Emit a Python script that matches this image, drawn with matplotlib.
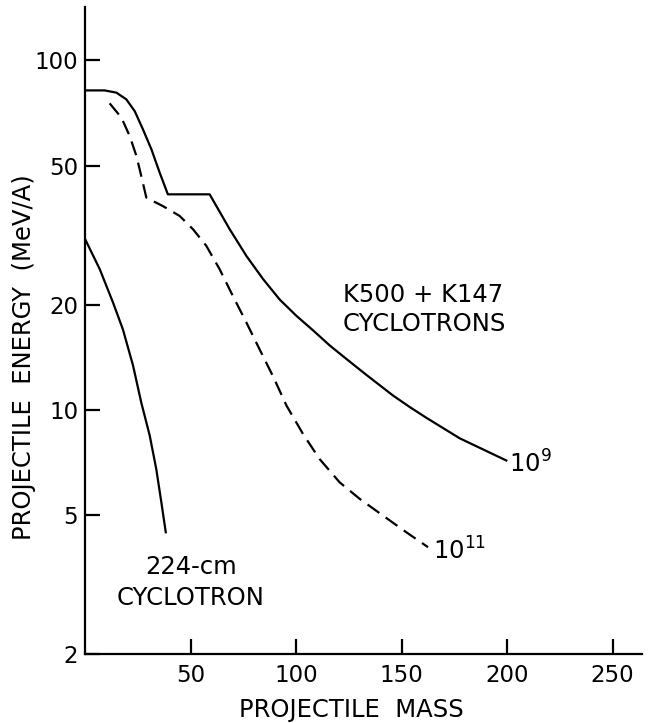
import numpy as np
import matplotlib
matplotlib.use('Agg')
import matplotlib.pyplot as plt

# Read-off values (projectile mass, energy in MeV/A)
# K500 + K147, 10^9 particles/s (solid)
k_mass_1e9 = [0, 9.2, 14.8, 19.5, 23.5, 27.4, 31.4, 35.3, 39.2, 59.0,
              68.5, 76.4, 84.3, 92.2, 100.1, 108.0, 115.9, 123.8, 133.3,
              145.9, 153.8, 161.7, 177.5, 199.6]
k_energy_1e9 = [82.1, 82.1, 80.9, 77.4, 71.6, 63.5, 55.7, 47.8, 41.4, 41.4,
                32.9, 27.6, 23.7, 20.7, 18.6, 16.9, 15.3, 14.0, 12.6,
                11.0, 10.2, 9.5, 8.3, 7.17]

# K500 + K147, 10^11 particles/s (dashed)
k_mass_1e11 = [11.6, 17.2, 21.1, 24.3, 26.6, 29.0, 36.9, 44.8, 51.1, 57.4,
               63.7, 70.0, 76.4, 82.7, 89.0, 95.4, 103.2, 111.1, 120.6,
               130.1, 141.1, 152.2, 162.5]
k_energy_1e11 = [75.4, 68.6, 60.8, 53.3, 46.7, 40.5, 38.3, 35.9, 32.9, 29.5,
                 25.3, 21.2, 17.8, 14.9, 12.5, 10.3, 8.55, 7.24, 6.21,
                 5.57, 4.99, 4.47, 4.05]

# 224-cm cyclotron
c_mass = [0, 6.9, 13.2, 17.9, 22.7, 26.6, 30.6, 33.7, 36.1, 38.2]
c_energy = [30.8, 25.3, 20.3, 17.0, 13.4, 10.5, 8.45, 6.78, 5.45, 4.47]

y_ticks = [2, 5, 10, 20, 50, 100]
x_ticks = [50, 100, 150, 200, 250]

plt.rcParams['font.family'] = ['DejaVu Sans']
fs = 17.5

fig = plt.figure(figsize=(6.5, 7.23), dpi=100)
ax = fig.add_axes([0.131, 0.095, 0.857, 0.895])

ax.plot(k_mass_1e9, k_energy_1e9, color='black', lw=1.6)
ax.plot(k_mass_1e11, k_energy_1e11, color='black', lw=1.6, dashes=(6.5, 3.5))
ax.plot(c_mass, c_energy, color='black', lw=1.6)

ax.set_yscale('log')
ax.set_xlim(0, 264)
ax.set_ylim(2, 142)
ax.set_yticks(y_ticks)
ax.set_yticklabels([str(v) for v in y_ticks])
ax.yaxis.set_minor_locator(matplotlib.ticker.NullLocator())
ax.set_xticks(x_ticks)

for s in ['top', 'right']:
    ax.spines[s].set_visible(False)
for s in ['left', 'bottom']:
    ax.spines[s].set_linewidth(1.6)

ax.tick_params(axis='both', direction='in', length=11, width=1.6, labelsize=16.5)
ax.tick_params(axis='y', pad=5)
ax.tick_params(axis='x', pad=7)

ax.set_xlabel('PROJECTILE  MASS', fontsize=fs)
ax.set_ylabel('PROJECTILE  ENERGY  (MeV/A)', fontsize=fs)
ax.xaxis.set_label_coords(0.478, -0.068)
ax.yaxis.set_label_coords(-0.088, 0.46)

# annotations
ax.text(122, 21.4, 'K500 + K147', fontsize=fs, va='center', ha='left')
ax.text(122, 17.6, 'CYCLOTRONS', fontsize=fs, va='center', ha='left')
ax.text(50, 3.55, '224-cm', fontsize=fs, va='center', ha='center')
ax.text(50, 2.9, 'CYCLOTRON', fontsize=fs, va='center', ha='center')
ax.text(201, 7.0, r'10$^{9}$', fontsize=fs, va='center', ha='left')
ax.text(165, 3.95, r'10$^{11}$', fontsize=fs, va='center', ha='left')

fig.savefig('out.png', dpi=100)
